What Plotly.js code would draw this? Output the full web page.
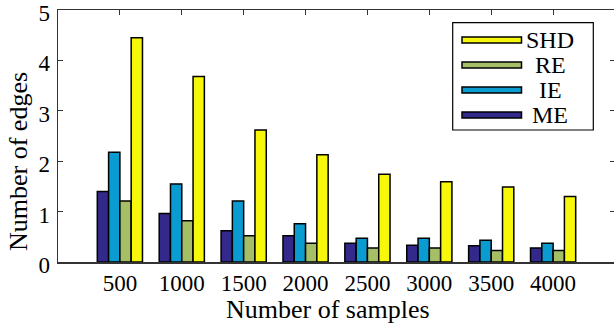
<!DOCTYPE html>
<html>
<head>
<meta charset="utf-8">
<script src="https://cdn.plot.ly/plotly-3.0.1.min.js"></script>
<style>html,body{margin:0;padding:0;overflow:hidden;background:#fff;}</style>
</head>
<body>
<div id="chart" style="width:614px;height:327px;"></div>
<script>
// ---- data ----
const sampleLabels = ["500", "1000", "1500", "2000", "2500", "3000", "3500", "4000"];
const ME  = [1.40, 0.96, 0.62, 0.52, 0.37, 0.33, 0.32, 0.28];
const IE  = [2.18, 1.55, 1.21, 0.76, 0.47, 0.47, 0.43, 0.37];
const RE  = [1.21, 0.82, 0.52, 0.37, 0.28, 0.28, 0.23, 0.23];
const SHD = [4.45, 3.68, 2.62, 2.13, 1.74, 1.59, 1.49, 1.30];
const seriesNames = ["ME", "IE", "RE", "SHD"];
const seriesColors = ["#33298a", "#0a9bd0", "#a6bf66", "#f7f70c"];
const seriesValues = [ME, IE, RE, SHD];
const yTicks = [0, 1, 2, 3, 4, 5];

const xs = sampleLabels.map((_, i) => i + 1);
const W = 615, H = 327, ML = 58, MR = 0, MT = 10, MB = 65;
const PW = W - ML - MR, PH = H - MT - MB;
const px = v => (v - ML) / PW;
const py = v => (MT + PH - v) / PH;

const traces = seriesValues.map((vals, k) => ({
  type: "bar",
  x: xs,
  y: vals,
  name: seriesNames[k],
  marker: {color: seriesColors[k], line: {color: "#000", width: 1.5}},
  showlegend: false
}));

const serif = "Liberation Serif";
const shapes = [];
const annotations = [];
// custom legend (order reversed: SHD, RE, IE, ME)
shapes.push({type: "rect", xref: "paper", yref: "paper",
  x0: px(452.7), x1: px(593.3), y0: py(130), y1: py(22.7),
  line: {color: "#000", width: 1.2}, fillcolor: "#fff", layer: "above"});
const rowY = [40, 65, 90, 115];
[3, 2, 1, 0].forEach((k, r) => {
  shapes.push({type: "rect", xref: "paper", yref: "paper",
    x0: px(462), x1: px(521.5), y0: py(rowY[r] + 3), y1: py(rowY[r] - 3),
    line: {color: "#000", width: 1.5}, fillcolor: seriesColors[k], layer: "above"});
  annotations.push({xref: "paper", yref: "paper", x: px(550), y: py(rowY[r]),
    text: seriesNames[k], showarrow: false, xanchor: "center", yanchor: "middle",
    font: {family: serif, size: 24, color: "#000"}});
});
annotations.push({xref: "paper", yref: "paper", x: px(18), y: py(162),
  text: "Number of edges", textangle: -90, showarrow: false,
  xanchor: "center", yanchor: "middle", font: {family: serif, size: 26, color: "#000"}});
annotations.push({xref: "paper", yref: "paper", x: px(328), y: py(309),
  text: "Number of samples", showarrow: false,
  xanchor: "center", yanchor: "middle", font: {family: serif, size: 26, color: "#000"}});

const layout = {
  width: W, height: H,
  margin: {l: ML, r: MR, t: MT, b: MB, pad: 0},
  paper_bgcolor: "#fff", plot_bgcolor: "#fff",
  barmode: "group", bargap: 0.27, bargroupgap: 0,
  showlegend: false,
  font: {family: serif, size: 23, color: "#000"},
  xaxis: {range: [0, 9], tickmode: "array", tickvals: xs, ticktext: sampleLabels,
    ticks: "inside", ticklen: 5, tickwidth: 1.2, tickcolor: "#333",
    showline: true, linecolor: "#333", linewidth: 1.5, mirror: "ticks",
    showgrid: false, zeroline: false, layer: "below traces", ticklabeloverflow: "allow",
    tickfont: {family: serif, size: 23, color: "#000"}},
  yaxis: {range: [0, 5], tickmode: "array", tickvals: yTicks, ticktext: yTicks.map(String),
    ticks: "inside", ticklen: 5, tickwidth: 1.2, tickcolor: "#333",
    showline: true, linecolor: "#333", linewidth: 1.5, mirror: "ticks",
    showgrid: false, zeroline: false, layer: "below traces", ticklabelstandoff: 2,
    ticklabelshift: 3, ticklabeloverflow: "allow",
    tickfont: {family: serif, size: 23, color: "#000"}},
  shapes: shapes,
  annotations: annotations
};

Plotly.newPlot("chart", traces, layout, {staticPlot: true, displayModeBar: false});
</script>
</body>
</html>
